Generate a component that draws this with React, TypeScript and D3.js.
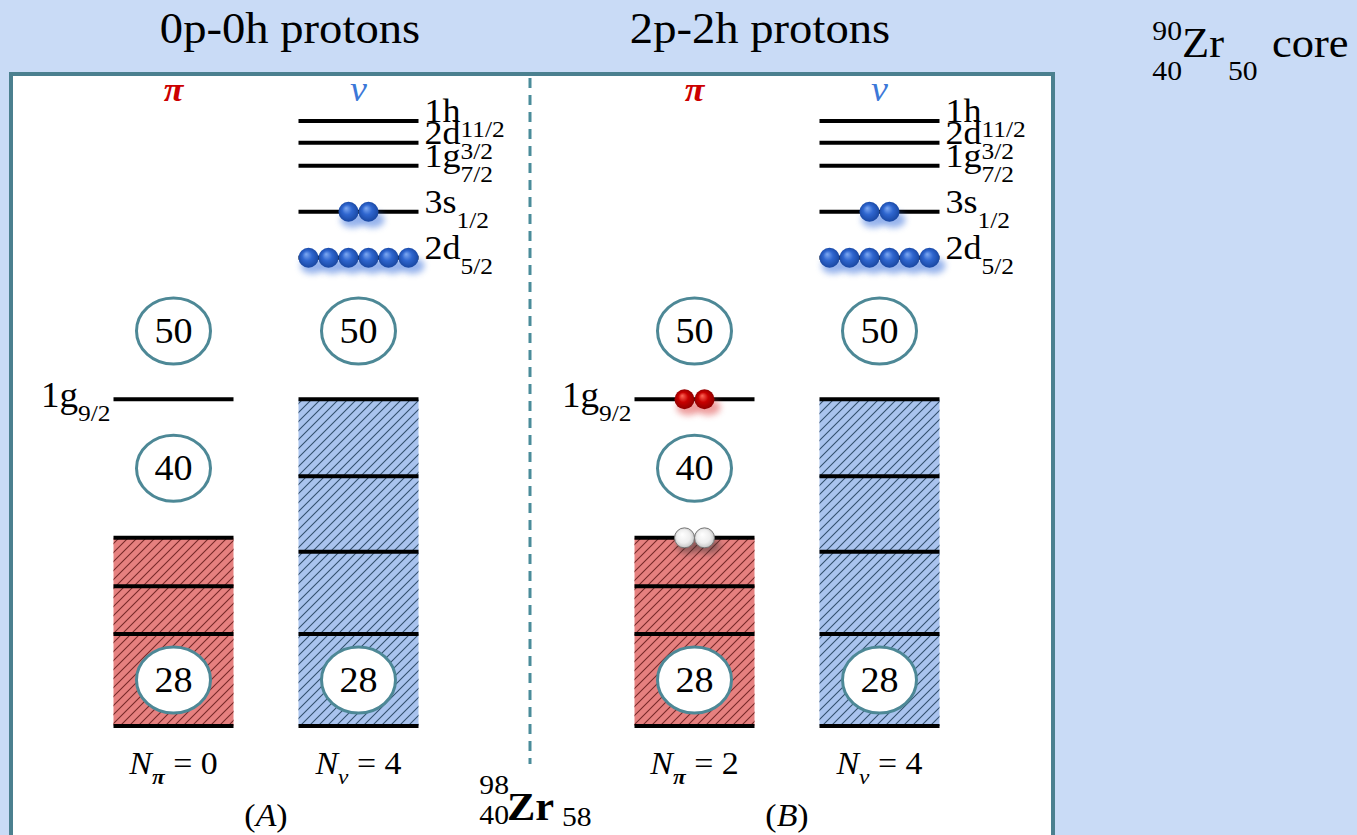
import * as d3 from 'd3';

const W = 1357;
const H = 835;
const SERIF = '"Liberation Serif", "Times New Roman", "DejaVu Serif", serif';
const SX = 1.06; // glyphs in the figure are slightly stretched horizontally

const panels = ['A', 'B'];
const panelTitles = ['0p-0h protons', '2p-2h protons'];
const panelTitleX = [290, 760];
const species = ['pi', 'nu'];
const speciesSymbol = ['π', 'ν'];
const speciesColor = ['#cc0000', '#3c78d8'];

// neutron orbits above N = 50 (energies in arbitrary units, bottom of the 28 shell = 0)
const valenceOrbit = ['1h', '2d', '1g', '3s', '2d'];
const valenceJ = ['11/2', '3/2', '7/2', '1/2', '5/2'];
const valenceEnergy = [100, 96.4, 92.6, 85.0, 77.4];
const valenceNeutrons = [0, 0, 0, 2, 6];

// proton 1g9/2 orbit
const g92Energy = 54.0;
const g92Protons = [0, 2];
const protonHoles = [0, 2];

const protonCoreLevels = [31.1, 23.1, 15.2, 0];
const neutronCoreLevels = [54.0, 41.3, 28.8, 15.2, 0];

const protonMagic = [50, 40, 28];
const protonMagicEnergy = [65.3, 42.6, 7.6];
const neutronMagic = [50, 28];
const neutronMagicEnergy = [65.3, 7.6];

const nProton = [0, 2];
const nNeutron = [4, 4];

const y = d3.scaleLinear().domain([0, 100]).range([726, 121]);
const panelX = d3.scaleBand().domain(panels).range([11, 1053]);
const colX = d3.scalePoint().domain(species).range([162.5, 347.5]);
const cx = (p: string, s: string) => (panelX(p) ?? 0) + (colX(s) ?? 0);
const COL_W = 120;
const R = 10;

function Txt({ x, y, size, anchor = 'middle', fill = '#000', italic, weight, children }: any) {
  return (
    <text
      transform={`translate(${x},${y}) scale(${SX},1)`}
      fontSize={size}
      textAnchor={anchor}
      fill={fill}
      fontStyle={italic ? 'italic' : undefined}
      fontWeight={weight}
      fontFamily={SERIF}
    >
      {children}
    </text>
  );
}

function Balls({ x, yy, n, kind }: { x: number; yy: number; n: number; kind: string }) {
  const xs = d3.range(n).map(i => x + (i - (n - 1) / 2) * 2 * R);
  const glow = kind === 'blue' ? '#3f75dd' : kind === 'red' ? '#e05050' : '#333';
  return (
    <g>
      {xs.map((bx, i) => (
        <ellipse key={'s' + i} cx={bx + 4} cy={yy + 8} rx={12} ry={8} fill={glow}
          opacity={kind === 'white' ? 0.45 : 0.55} filter="url(#blur)" />
      ))}
      {xs.map((bx, i) => (
        <circle key={'b' + i} cx={bx} cy={yy} r={R} fill={`url(#${kind}Ball)`}
          stroke={kind === 'white' ? '#777' : 'none'} strokeWidth={1} />
      ))}
    </g>
  );
}

function Magic({ x, e, n }: { x: number; e: number; n: number }) {
  return (
    <g>
      <ellipse cx={x} cy={y(e)} rx={37} ry={33} fill="#fff" stroke="#4d8896" strokeWidth={3} />
      <Txt x={x} y={y(e) + 12} size={36}>{n}</Txt>
    </g>
  );
}

function Block({ x, levels, kind }: { x: number; levels: number[]; kind: string }) {
  const top = y(d3.max(levels) ?? 0);
  const bot = y(d3.min(levels) ?? 0);
  const base = kind === 'red' ? '#e6807f' : '#a9c3ee';
  return (
    <g>
      <rect x={x - COL_W / 2} y={top} width={COL_W} height={bot - top} fill={base} />
      <rect x={x - COL_W / 2} y={top} width={COL_W} height={bot - top} fill={`url(#hatch-${kind})`} />
      {levels.map((e, i) => (
        <line key={i} x1={x - COL_W / 2} x2={x + COL_W / 2} y1={y(e)} y2={y(e)} stroke="#000" strokeWidth={4} />
      ))}
    </g>
  );
}

function Panel({ p, pi }: { p: string; pi: number }) {
  const xp = cx(p, 'pi');
  const xn = cx(p, 'nu');
  return (
    <g>
      {/* title */}
      <Txt x={panelTitleX[pi]} y={43} size={44}>{panelTitles[pi]}</Txt>
      {/* species symbols */}
      <Txt x={xp} y={101} size={34} fill={speciesColor[0]} italic weight="bold">{speciesSymbol[0]}</Txt>
      <Txt x={xn} y={101} size={36} fill={speciesColor[1]} italic>{speciesSymbol[1]}</Txt>

      {/* proton column */}
      <Block x={xp} levels={protonCoreLevels} kind="red" />
      <line x1={xp - COL_W / 2} x2={xp + COL_W / 2} y1={y(g92Energy)} y2={y(g92Energy)} stroke="#000" strokeWidth={4} />
      <Txt x={xp - COL_W / 2 - 3} y={y(g92Energy) + 8} size={35} anchor="end">
        1g<tspan fontSize={24} dy={14}>9/2</tspan>
      </Txt>
      {protonMagic.map((m, i) => <Magic key={m} x={xp} e={protonMagicEnergy[i]} n={m} />)}
      {g92Protons[pi] > 0 && <Balls x={xp} yy={y(g92Energy)} n={g92Protons[pi]} kind="red" />}
      {protonHoles[pi] > 0 && <Balls x={xp} yy={y(d3.max(protonCoreLevels) ?? 0)} n={protonHoles[pi]} kind="white" />}

      {/* neutron column */}
      <Block x={xn} levels={neutronCoreLevels} kind="blue" />
      {neutronMagic.map((m, i) => <Magic key={m} x={xn} e={neutronMagicEnergy[i]} n={m} />)}
      {valenceEnergy.map((e, i) => (
        <g key={i}>
          <line x1={xn - COL_W / 2} x2={xn + COL_W / 2} y1={y(e)} y2={y(e)} stroke="#000" strokeWidth={4} />
          <Txt x={xn + COL_W / 2 + 6} y={y(e) + 1} size={34} anchor="start">
            {valenceOrbit[i]}<tspan fontSize={24} dy={15}>{valenceJ[i]}</tspan>
          </Txt>
        </g>
      ))}
      {valenceEnergy.map((e, i) =>
        valenceNeutrons[i] > 0 ? <Balls key={'n' + i} x={xn} yy={y(e)} n={valenceNeutrons[i]} kind="blue" /> : null
      )}

      {/* occupation labels */}
      <Txt x={xp} y={774} size={32}>
        <tspan fontStyle="italic">N</tspan>
        <tspan fontSize={22} dy={10} fontStyle="italic" fontWeight="bold">π</tspan>
        <tspan dy={-10}>{` = ${nProton[pi]}`}</tspan>
      </Txt>
      <Txt x={xn} y={774} size={32}>
        <tspan fontStyle="italic">N</tspan>
        <tspan fontSize={22} dy={10} fontStyle="italic">ν</tspan>
        <tspan dy={-10}>{` = ${nNeutron[pi]}`}</tspan>
      </Txt>
      <Txt x={(xp + xn) / 2} y={826} size={32}>
        (<tspan fontStyle="italic">{p}</tspan>)
      </Txt>
    </g>
  );
}

export default function App() {
  return (
    <svg width={W} height={H} style={{ position: 'absolute', left: 0, top: 0, display: 'block' }}>
      <defs>
        <pattern id="hatch-red" patternUnits="userSpaceOnUse" width={9} height={9}>
          <path d="M-1,1 L1,-1 M0,9 L9,0 M8,10 L10,8" stroke="#772828" strokeWidth={1.1} />
        </pattern>
        <pattern id="hatch-blue" patternUnits="userSpaceOnUse" width={9} height={9}>
          <path d="M-1,1 L1,-1 M0,9 L9,0 M8,10 L10,8" stroke="#32506e" strokeWidth={1.1} />
        </pattern>
        <radialGradient id="blueBall" cx="0.5" cy="0.5" r="0.55" fx="0.38" fy="0.32">
          <stop offset="0%" stopColor="#7ea9f2" />
          <stop offset="45%" stopColor="#2f66cf" />
          <stop offset="100%" stopColor="#16439c" />
        </radialGradient>
        <radialGradient id="redBall" cx="0.5" cy="0.5" r="0.55" fx="0.38" fy="0.32">
          <stop offset="0%" stopColor="#ff6a5a" />
          <stop offset="45%" stopColor="#c80000" />
          <stop offset="100%" stopColor="#850000" />
        </radialGradient>
        <radialGradient id="whiteBall" cx="0.5" cy="0.5" r="0.55" fx="0.38" fy="0.32">
          <stop offset="0%" stopColor="#ffffff" />
          <stop offset="60%" stopColor="#eeeeee" />
          <stop offset="100%" stopColor="#bdbdbd" />
        </radialGradient>
        <filter id="blur" x="-50%" y="-50%" width="200%" height="200%">
          <feGaussianBlur stdDeviation={3} />
        </filter>
      </defs>

      <rect x={0} y={0} width={W} height={H} fill="#c9dbf6" />
      <rect x={11} y={74} width={1042} height={763} fill="#fff" stroke="#4b808f" strokeWidth={4} />
      <line x1={530} x2={530} y1={78} y2={764} stroke="#4a8c9a" strokeWidth={3} strokeDasharray="10 7" />

      {panels.map((p, i) => <Panel key={p} p={p} pi={i} />)}

      {/* nucleus label */}
      <Txt x={509} y={794} size={28} anchor="end">98</Txt>
      <Txt x={509} y={824} size={28} anchor="end">40</Txt>
      <Txt x={507} y={820} size={40} anchor="start" weight="bold">Zr</Txt>
      <Txt x={562} y={826} size={28} anchor="start">58</Txt>

      {/* core label */}
      <Txt x={1182} y={40} size={28} anchor="end">90</Txt>
      <Txt x={1182} y={80} size={28} anchor="end">40</Txt>
      <Txt x={1182} y={57} size={42} anchor="start">Zr</Txt>
      <Txt x={1228} y={80} size={28} anchor="start">50</Txt>
      <Txt x={1272} y={57} size={42} anchor="start">core</Txt>
    </svg>
  );
}
